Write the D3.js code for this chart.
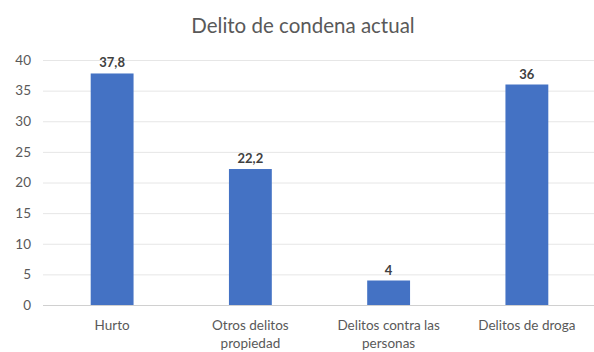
<!DOCTYPE html>
<html><head><meta charset="utf-8">
<script src="https://cdn.jsdelivr.net/npm/d3@7"></script>
<style>body{margin:0;background:#fff}svg{display:block}text{font-family:Lato,"Open Sans",sans-serif}</style>
</head><body><svg id="c" width="594" height="352"></svg>
<script>
const categories = ["Hurto", "Otros delitos propiedad", "Delitos contra las personas", "Delitos de droga"];
const categoryLines = [["Hurto"], ["Otros delitos", "propiedad"], ["Delitos contra las", "personas"], ["Delitos de droga"]];
const values = [37.8, 22.2, 4, 36];
const valueLabels = ["37,8", "22,2", "4", "36"];
const yTicks = [0, 5, 10, 15, 20, 25, 30, 35, 40];
const title = "Delito de condena actual";

const svg = d3.select("#c");
const x = d3.scaleBand().domain(categories).range([43, 596]).paddingInner(0.69).paddingOuter(0.345);
const y = d3.scaleLinear().domain([0, 40]).range([305, 60]);

svg.append("text").attr("x", 303).attr("y", 33).attr("text-anchor", "middle")
  .attr("font-size", 20.5).attr("fill", "#595959").text(title);

svg.append("g").selectAll("line").data(yTicks).join("line")
  .attr("x1", 43).attr("x2", 594).attr("y1", d => y(d) + 0.5).attr("y2", d => y(d) + 0.5)
  .attr("stroke", d => d === 0 ? "#d0d0d0" : "#e6e6e6").attr("stroke-width", 1);

const ax = svg.append("g").attr("transform", "translate(31,0)")
  .call(d3.axisLeft(y).tickValues(yTicks).tickSize(0).tickPadding(0));
ax.select(".domain").remove();
ax.selectAll("text").attr("font-size", 13.5).attr("fill", "#595959").attr("font-family", "Lato");

svg.append("g").selectAll("rect").data(values).join("rect")
  .attr("x", (d, i) => x(categories[i])).attr("width", x.bandwidth())
  .attr("y", d => y(d)).attr("height", d => y(0) - y(d)).attr("fill", "#4472c4");

svg.append("g").selectAll("text").data(values).join("text")
  .attr("x", (d, i) => x(categories[i]) + x.bandwidth() / 2).attr("y", d => y(d) - 6)
  .attr("text-anchor", "middle").attr("font-size", 13).attr("font-weight", "bold").attr("fill", "#404040")
  .text((d, i) => valueLabels[i]);

const cl = svg.append("g").selectAll("text").data(categories).join("text")
  .attr("x", d => x(d) + x.bandwidth() / 2).attr("y", 330)
  .attr("text-anchor", "middle").attr("font-size", 13.5).attr("fill", "#595959");
cl.each(function(d, i) {
  d3.select(this).selectAll("tspan").data(categoryLines[i]).join("tspan")
    .attr("x", x(d) + x.bandwidth() / 2).attr("dy", (t, j) => j === 0 ? 0 : 18).text(t => t);
});
</script></body></html>
